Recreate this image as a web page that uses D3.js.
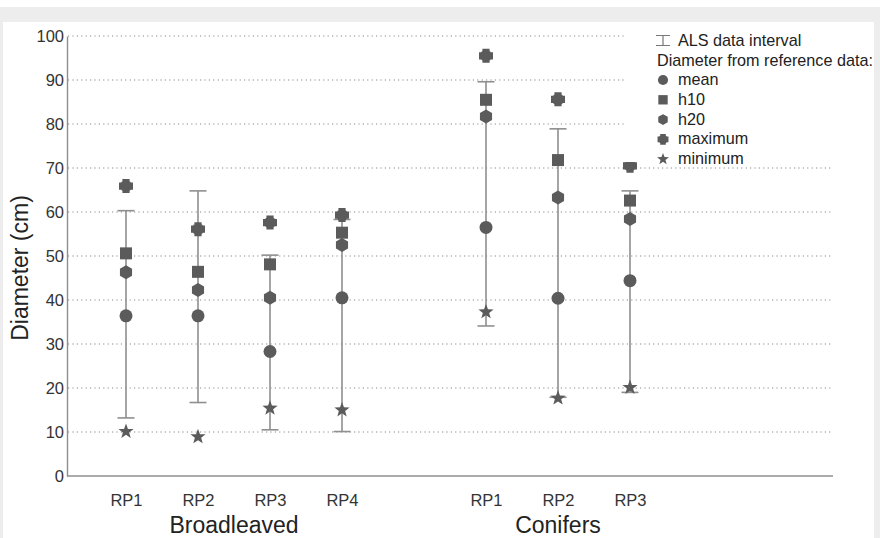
<!DOCTYPE html>
<html>
<head>
<meta charset="utf-8">
<script src="https://cdn.jsdelivr.net/npm/d3@7"></script>
<style>
  html, body { margin: 0; padding: 0; background: #ffffff; }
  svg { display: block; font-family: "Liberation Sans", Arial, sans-serif; }
</style>
</head>
<body>
<script>
// ---------------- data ----------------
const groups = ["Broadleaved", "Broadleaved", "Broadleaved", "Broadleaved", "Conifers", "Conifers", "Conifers"];
const plots = ["RP1", "RP2", "RP3", "RP4", "RP1", "RP2", "RP3"];
const alsLow = [13.2, 16.7, 10.5, 10.1, 34.1, 17.9, 19.0];
const alsHigh = [60.3, 64.8, 50.2, 58.3, 89.6, 78.9, 64.8];
const meanVals = [36.4, 36.4, 28.3, 40.5, 56.5, 40.4, 44.4];
const h10Vals = [50.6, 46.4, 48.1, 55.3, 85.5, 71.8, 62.6];
const h20Vals = [46.3, 42.3, 40.5, 52.5, 81.7, 63.3, 58.4];
const maxVals = [65.9, 56.1, 57.6, 59.3, 95.5, 85.6, 70.5];
const minVals = [10.1, 8.9, 15.4, 15.0, 37.3, 17.7, 20.1];
const yTicks = [0, 10, 20, 30, 40, 50, 60, 70, 80, 90, 100];
const groupNames = ["Broadleaved", "Conifers"];
const legendLabels = ["mean", "h10", "h20", "maximum", "minimum"];

// ---------------- layout ----------------
const W = 880, H = 538;
const markColor = "#5b5b5b";
const lineColor = "#8f8f8f";

const svg = d3.select("body").append("svg").attr("width", W).attr("height", H);

// frame
svg.append("rect").attr("x", 0).attr("y", 0).attr("width", W).attr("height", H).attr("fill", "#ffffff");
svg.append("rect").attr("x", 0).attr("y", 7).attr("width", W).attr("height", 15).attr("fill", "#ededed");
svg.append("rect").attr("x", 0).attr("y", 7).attr("width", 3).attr("height", H - 7).attr("fill", "#ededed");
svg.append("rect").attr("x", 874).attr("y", 7).attr("width", 6).attr("height", H - 7).attr("fill", "#ededed");

const keys = groups.map((g, i) => g + " " + plots[i]);
const domain = keys.slice(0, 4).concat(["gap"], keys.slice(4));
const x = d3.scalePoint().domain(domain).range([126, 630]);
const y = d3.scaleLinear().domain([0, 100]).range([476, 36]);
const xLeft = 67, xRight = 833;

// gridlines
svg.append("g").selectAll("line").data(yTicks.filter(t => t > 0)).join("line")
  .attr("x1", xLeft + 1).attr("x2", xRight)
  .attr("y1", d => y(d)).attr("y2", d => y(d))
  .attr("stroke", "#8a8a8a").attr("stroke-width", 1.1)
  .attr("stroke-dasharray", "1.2,3.2");

// y axis
const yAxis = d3.axisLeft(y).tickValues(yTicks).tickSize(0).tickPadding(3).tickFormat(d3.format("d"));
const gy = svg.append("g").attr("transform", `translate(${xLeft},0)`).call(yAxis);
gy.select(".domain").attr("stroke", lineColor).attr("stroke-width", 1.4);
gy.selectAll("text").attr("font-size", 16.5).attr("fill", "#333").attr("font-family", "Liberation Sans, Arial, sans-serif");

// x axis
const xAxis = d3.axisBottom(x).tickSize(0).tickPadding(18)
  .tickFormat(d => d === "gap" ? "" : d.split(" ")[1]);
const gx = svg.append("g").attr("transform", `translate(0,${y(0)})`).call(xAxis);
gx.select(".domain").attr("d", `M${xLeft},0H${xRight}`).attr("stroke", lineColor).attr("stroke-width", 1.6);
gx.selectAll("text").attr("font-size", 16.5).attr("fill", "#333").attr("font-family", "Liberation Sans, Arial, sans-serif");

// group labels
groupNames.forEach(g => {
  const idx = keys.map((k, i) => i).filter(i => groups[i] === g);
  const cx = (x(keys[idx[0]]) + x(keys[idx[idx.length - 1]])) / 2;
  svg.append("text").attr("x", cx).attr("y", 533).attr("text-anchor", "middle")
    .attr("font-size", 23).attr("fill", "#222").text(g);
});

// y title
svg.append("text").attr("transform", "translate(28,268) rotate(-90)")
  .attr("text-anchor", "middle").attr("font-size", 23).attr("fill", "#222").text("Diameter (cm)");

// ---------------- symbols ----------------
function sym(type, s) {
  const p = d3.path();
  if (type === "circle") {
    const r = 6.5 * s; p.arc(0, 0, r, 0, 2 * Math.PI); return p.toString();
  }
  if (type === "square") {
    const a = 6 * s; return `M${-a},${-a}H${a}V${a}H${-a}Z`;
  }
  if (type === "hex") {
    const r = 7 * s; let d = "";
    for (let k = 0; k < 6; k++) {
      const ang = Math.PI / 6 + k * Math.PI / 3;
      d += (k ? "L" : "M") + (r * Math.cos(ang)).toFixed(2) + "," + (r * Math.sin(ang)).toFixed(2);
    }
    return d + "Z";
  }
  if (type === "max") {
    const a = 3.6 * s, L = 7 * s, r = 6.1 * s;
    const cross = `M${-a},${-L}H${a}V${-a}H${L}V${a}H${a}V${L}H${-a}V${a}H${-L}V${-a}H${-a}Z`;
    p.moveTo(r, 0); p.arc(0, 0, r, 0, 2 * Math.PI);
    return cross + p.toString();
  }
  if (type === "star") {
    const R = 8 * s, ri = 3.3 * s; let d = "";
    for (let k = 0; k < 10; k++) {
      const rr = k % 2 ? ri : R;
      const ang = -Math.PI / 2 + k * Math.PI / 5;
      d += (k ? "L" : "M") + (rr * Math.cos(ang)).toFixed(2) + "," + (rr * Math.sin(ang)).toFixed(2);
    }
    return d + "Z";
  }
}

// ALS intervals
const gi = svg.append("g");
keys.forEach((k, i) => {
  const cx = x(k);
  gi.append("line").attr("x1", cx).attr("x2", cx).attr("y1", y(alsLow[i])).attr("y2", y(alsHigh[i]))
    .attr("stroke", lineColor).attr("stroke-width", 1.6);
  [alsLow[i], alsHigh[i]].forEach(v => {
    gi.append("line").attr("x1", cx - 8.5).attr("x2", cx + 8.5).attr("y1", y(v)).attr("y2", y(v))
      .attr("stroke", lineColor).attr("stroke-width", 1.6);
  });
});

// markers
const series = [
  { vals: maxVals, type: "max" },
  { vals: h10Vals, type: "square" },
  { vals: h20Vals, type: "hex" },
  { vals: meanVals, type: "circle" },
  { vals: minVals, type: "star" }
];
series.forEach(se => {
  svg.append("g").selectAll("path").data(se.vals).join("path")
    .attr("transform", (d, i) => `translate(${x(keys[i])},${y(d)})`)
    .attr("d", sym(se.type, 1))
    .attr("fill", markColor);
});

// ---------------- legend ----------------
const lg = svg.append("g");
lg.append("rect").attr("x", 624).attr("y", 26).attr("width", 250).attr("height", 136).attr("fill", "#ffffff");
lg.append("path").attr("d", "M656,35.5H670M663,35.5V45.5M656,45.5H670")
  .attr("stroke", "#777").attr("stroke-width", 1.2).attr("fill", "none");
lg.append("text").attr("x", 678).attr("y", 46).attr("font-size", 16.2).attr("fill", "#222").text("ALS data interval");
lg.append("text").attr("x", 657).attr("y", 65.5).attr("font-size", 16.2).attr("fill", "#222").text("Diameter from reference data:");
const legTypes = ["circle", "square", "hex", "max", "star"];
legendLabels.forEach((lab, i) => {
  const yy = 85 + i * 19.8;
  lg.append("path").attr("transform", `translate(663,${yy - 5})`)
    .attr("d", sym(legTypes[i], 0.78)).attr("fill", markColor);
  lg.append("text").attr("x", 678).attr("y", yy).attr("font-size", 16.2).attr("fill", "#222").text(lab);
});
</script>
</body>
</html>
